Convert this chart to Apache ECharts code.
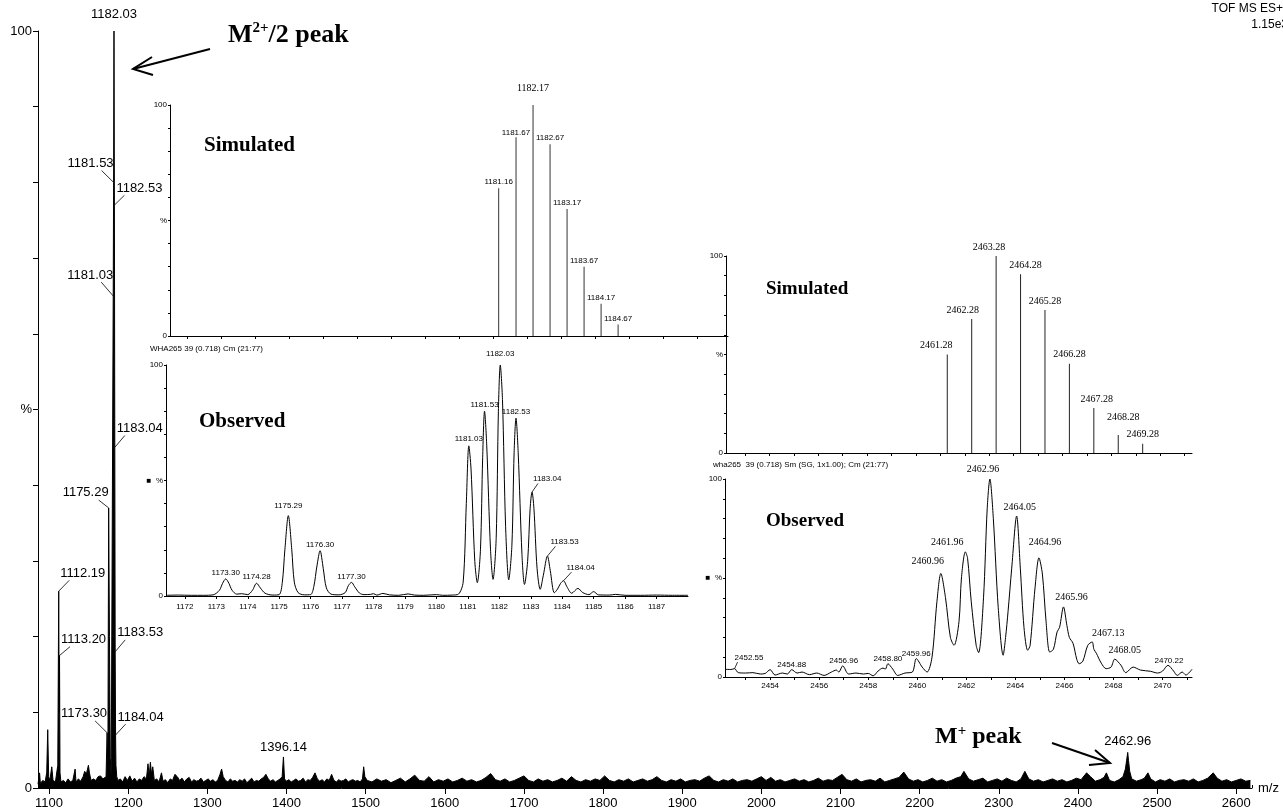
<!DOCTYPE html>
<html><head><meta charset="utf-8">
<script src="https://cdn.jsdelivr.net/npm/echarts@6/dist/echarts.min.js"></script>
<style>html,body{margin:0;padding:0;background:#fff}#c{width:1283px;height:812px}</style>
</head><body><div id="c"></div>
<script>
// ---------------- DATA ----------------
// Main spectrum profile [m/z, %]
const mainSpectrum = [
[1086,0.5],[1088,2.0],[1089,0.6],[1092,1.0],[1095,0.8],[1097,2.0],[1098.3,7.7],[1099.5,1.5],[1101,1.0],[1103.4,2.8],
[1105,1.0],[1108,0.8],[1110,1.0],[1111,3.0],[1112.19,26],[1112.7,10],[1113.2,17.5],[1113.8,2.0],[1115,0.8],[1118,1.0],
[1121,0.7],[1124,1.2],[1127,0.8],[1130,1.0],[1132.9,2.5],[1134,0.8],[1137,1.2],[1140,0.9],[1143,1.5],[1145,2.2],
[1147,1.8],[1149.7,3.0],[1151,2.0],[1153,1.0],[1156,1.2],[1159,1.0],[1162,1.5],[1165,1.6],[1168,1.2],[1170,1.0],
[1172,1.5],[1173.3,7.3],[1174.28,3.0],[1175.29,37],[1176.3,20],[1177.3,4.0],[1178.5,1.5],[1180.4,1.5],[1181.03,65],[1181.53,80],
[1182.03,100],[1182.53,77],[1183.04,45],[1183.53,18],[1184.04,7],[1184.5,3.0],[1185.5,1.5],[1187,1.0],[1190,1.2],[1193,0.8],
[1196,1.5],[1199,1.0],[1202,1.6],[1205,0.9],[1208,1.3],[1211,0.8],[1214,1.2],[1217,1.0],[1220,1.5],[1223,1.2],
[1225,3.2],[1226.5,1.5],[1228,3.4],[1229.5,1.8],[1231,2.8],[1233,1.0],[1236,1.2],[1239,0.8],[1242,2.0],[1244,0.9],
[1247,1.1],[1250,0.7],[1253,1.2],[1256,1.0],[1259,1.8],[1262,1.5],[1265,1.0],[1268,1.3],[1271,0.8],[1274,1.2],
[1277,1.4],[1280,0.8],[1283,1.1],[1286,0.9],[1289,1.0],[1292,1.3],[1295,0.8],[1298,1.0],[1301,1.2],[1304,0.9],
[1307,1.1],[1310,0.8],[1313,1.0],[1316,1.8],[1318,2.5],[1320,1.5],[1323,1.0],[1326,0.8],[1329,1.2],[1332,0.9],
[1335,1.0],[1338,0.8],[1341,1.1],[1344,0.9],[1347,1.2],[1350,0.7],[1353,1.0],[1356,1.3],[1359,0.8],[1362,1.0],
[1365,0.9],[1368,1.2],[1371,1.4],[1374,1.8],[1377,1.2],[1380,0.9],[1383,1.1],[1386,0.8],[1389,1.0],[1392,1.2],
[1394.5,1.5],[1396.14,4.1],[1397.5,1.2],[1400,0.9],[1403,1.1],[1406,0.8],[1409,1.0],[1412,1.2],[1415,0.9],[1418,1.0],
[1421,1.3],[1424,0.8],[1427,1.1],[1430,1.0],[1433,1.4],[1436,2.0],[1439,1.2],[1442,0.9],[1445,1.1],[1448,0.8],
[1451,1.2],[1454,1.0],[1457,1.8],[1460,1.0],[1463,0.8],[1466,1.1],[1469,0.9],[1472,1.0],[1475,1.2],[1478,0.8],
[1481,1.0],[1484,1.1],[1487,0.9],[1490,1.0],[1493,0.8],[1496,1.2],[1497.5,2.8],[1499,1.5],[1502,1.0],[1508,0.8],
[1514,1.2],[1520,0.9],[1526,1.1],[1532,0.7],[1538,1.0],[1544,1.3],[1550,0.8],[1556,1.2],[1562,1.7],[1568,1.0],
[1574,0.9],[1580,1.5],[1586,0.8],[1592,1.1],[1598,0.9],[1604,1.2],[1610,0.8],[1616,1.0],[1622,1.3],[1628,0.9],
[1634,1.1],[1640,0.8],[1646,1.0],[1652,1.4],[1658,1.9],[1664,1.1],[1670,0.9],[1676,1.2],[1682,0.8],[1688,1.0],
[1694,1.3],[1700,1.6],[1706,1.0],[1712,0.8],[1718,1.2],[1724,0.9],[1730,1.1],[1736,0.8],[1742,1.0],[1748,1.3],
[1754,0.9],[1760,1.5],[1766,1.0],[1772,0.8],[1778,1.1],[1784,0.9],[1790,1.2],[1796,1.0],[1802,1.6],[1808,1.0],
[1814,0.8],[1820,1.1],[1826,0.9],[1832,1.2],[1838,0.8],[1844,1.0],[1850,1.2],[1856,0.9],[1862,1.1],[1868,1.5],
[1874,1.0],[1880,0.8],[1886,1.1],[1892,0.9],[1898,1.2],[1904,0.8],[1910,1.0],[1916,1.1],[1922,0.9],[1928,1.3],
[1934,1.6],[1940,1.0],[1946,0.8],[1952,1.1],[1958,0.9],[1964,1.2],[1970,0.8],[1976,1.0],[1982,1.1],[1988,0.9],
[1994,1.2],[2000,1.5],[2006,1.0],[2012,1.4],[2018,0.9],[2024,1.1],[2030,0.8],[2036,1.0],[2042,1.2],[2048,0.9],
[2054,1.1],[2060,0.8],[2066,1.0],[2072,1.3],[2078,0.9],[2084,1.1],[2090,1.0],[2096,1.4],[2102,1.8],[2108,1.1],
[2114,0.9],[2120,1.2],[2126,0.8],[2132,1.0],[2138,1.1],[2144,0.9],[2150,1.3],[2156,0.8],[2162,1.0],[2168,1.2],
[2174,1.4],[2180,2.1],[2186,1.2],[2192,0.9],[2198,1.1],[2204,0.8],[2210,1.0],[2216,1.3],[2222,0.9],[2228,1.1],
[2234,0.8],[2240,1.0],[2246,1.3],[2252,1.5],[2256,2.2],[2262,1.2],[2268,0.9],[2274,1.1],[2280,1.3],[2286,0.8],
[2292,1.0],[2298,1.2],[2304,0.9],[2310,1.3],[2316,1.0],[2322,0.8],[2328,1.2],[2333,2.2],[2338,1.2],[2344,0.9],
[2350,1.1],[2356,0.8],[2362,1.0],[2368,1.2],[2374,0.9],[2380,1.1],[2386,0.8],[2392,1.0],[2398,1.3],[2404,1.1],
[2411,2.0],[2416,1.5],[2422,0.9],[2428,1.1],[2433,1.4],[2436,2.0],[2440,1.0],[2446,0.8],[2452,1.1],[2457,1.5],
[2460,2.5],[2461.5,3.6],[2462.96,4.7],[2464,3.6],[2465.5,2.2],[2468,1.2],[2474,0.9],[2480,1.1],[2484,1.3],[2488.5,2.0],
[2492,1.2],[2498,0.8],[2504,1.1],[2510,0.9],[2516,1.2],[2522,0.8],[2528,1.0],[2534,1.1],[2540,0.9],[2546,1.2],
[2552,0.8],[2558,1.0],[2564,1.3],[2571,2.0],[2576,1.3],[2582,0.9],[2588,1.1],[2594,0.8],[2600,1.0],[2606,1.2],
[2612,0.9],[2618,1.0]
];
const mainPeakMz  = [1182.03,1181.53,1182.53,1181.03,1183.04,1175.29,1112.19,1113.20,1183.53,1173.30,1184.04,1396.14,2462.96];
const mainPeakPct = [100,80,77,65,45,37,26,17.5,18,7.3,7,4.1,4.7];
const mainTickLabels = [1100,1200,1300,1400,1500,1600,1700,1800,1900,2000,2100,2200,2300,2400,2500,2600];

// Inset A (M2+/2)
const simAMz  = [1181.16,1181.67,1182.17,1182.67,1183.17,1183.67,1184.17,1184.67];
const simAPct = [64,86,100,83,55,30,14,5];
const obsAProfile = [
[1171.4,0.3],[1171.8,0.4],[1172.2,0.3],[1172.6,0.3],[1172.9,0.5],[1173.1,2.5],[1173.2,5.5],[1173.3,7.4],[1173.4,5.5],[1173.5,2.5],
[1173.65,0.8],[1173.8,1.0],[1174.0,0.6],[1174.15,2.5],[1174.28,5.5],[1174.4,3.5],[1174.55,1.2],[1174.8,0.4],[1175.0,0.6],[1175.1,6],
[1175.18,20],[1175.29,34.8],[1175.4,20],[1175.48,6],[1175.6,1.5],[1175.8,0.5],[1176.0,0.6],[1176.1,4],[1176.2,13],[1176.3,19.6],
[1176.4,12],[1176.5,3.5],[1176.65,0.8],[1176.9,0.5],[1177.1,1.5],[1177.2,4.5],[1177.3,5.9],[1177.4,4],[1177.55,1.3],[1177.7,0.6],
[1177.9,0.7],[1178.0,1.0],[1178.1,0.4],[1178.3,1.1],[1178.5,0.5],[1178.8,0.3],[1179.1,0.9],[1179.3,0.4],[1179.6,0.3],[1180.0,0.6],
[1180.2,0.3],[1180.5,0.4],[1180.7,0.8],[1180.85,6],[1180.95,40],[1181.03,65],[1181.1,55],[1181.22,15],[1181.3,5.8],[1181.4,20],
[1181.47,60],[1181.53,80],[1181.6,65],[1181.72,20],[1181.8,7.2],[1181.9,25],[1181.97,80],[1182.03,100],[1182.1,85],[1182.2,30],
[1182.3,7],[1182.4,22],[1182.47,62],[1182.53,77],[1182.6,62],[1182.72,18],[1182.8,5],[1182.9,15],[1182.98,38],[1183.04,45],
[1183.1,38],[1183.2,12],[1183.3,2.9],[1183.4,9],[1183.53,17.3],[1183.62,11],[1183.75,1.4],[1183.85,3],[1183.95,5.5],[1184.04,6.6],
[1184.15,4],[1184.3,1.2],[1184.5,3.3],[1184.65,1.5],[1184.85,0.6],[1185.0,1.9],[1185.15,0.5],[1185.5,0.4],[1185.7,0.7],[1186.0,0.3],
[1186.5,0.3],[1187.0,0.4],[1187.5,0.3],[1188.0,0.3]
];
const obsAPeakMz  = [1173.30,1174.28,1175.29,1176.30,1177.30,1181.03,1181.53,1182.03,1182.53,1183.04,1183.53,1184.04];
const obsAPeakPct = [7.4,5.5,34.8,19.6,5.9,65,80,100,77,45,17.3,6.6];
const insetATicks = [1172,1173,1174,1175,1176,1177,1178,1179,1180,1181,1182,1183,1184,1185,1186,1187];

// Inset B (M+)
const simBMz  = [2461.28,2462.28,2463.28,2464.28,2465.28,2466.28,2467.28,2468.28,2469.28];
const simBPct = [50,68,100,90.7,72.6,45.3,22.8,9.1,4.7];
const obsBProfile = [
[2452.16,3.9],[2452.4,3.8],[2452.55,4.2],[2452.7,2.2],[2453.0,2.0],[2453.3,2.2],[2453.6,1.5],[2453.8,1.8],[2454.0,3.7],[2454.2,1.0],
[2454.5,2.0],[2454.7,1.5],[2454.88,3.7],[2455.1,2.0],[2455.3,2.5],[2455.6,1.2],[2455.9,2.0],[2456.2,0.8],[2456.5,2.5],[2456.7,3.5],
[2456.8,2.5],[2456.96,5.6],[2457.2,1.5],[2457.5,2.0],[2457.8,1.5],[2458.0,1.8],[2458.2,0.6],[2458.4,3.0],[2458.6,4.5],[2458.7,4.0],
[2458.8,6.7],[2459.0,4.0],[2459.2,0.8],[2459.5,2.0],[2459.8,2.5],[2459.96,9.3],[2460.2,5],[2460.4,2.5],[2460.6,10],[2460.8,38],
[2460.96,52.3],[2461.15,40],[2461.35,20],[2461.5,16],[2461.7,28],[2461.8,50],[2461.96,63.2],[2462.05,60],[2462.2,38],[2462.4,16],
[2462.5,12.3],[2462.7,40],[2462.85,85],[2462.96,100],[2463.1,80],[2463.3,35],[2463.5,11],[2463.6,20],[2463.7,33],[2463.85,55],
[2464.05,81.3],[2464.2,55],[2464.35,25],[2464.5,13.5],[2464.6,16],[2464.8,45],[2464.96,60.2],[2465.1,52],[2465.25,28],[2465.4,12.6],
[2465.55,14],[2465.7,22.8],[2465.8,25],[2465.96,35.4],[2466.1,26],[2466.2,20],[2466.35,17],[2466.5,9],[2466.6,6.7],[2466.75,8],
[2466.95,16],[2467.13,17.7],[2467.2,14],[2467.3,12],[2467.5,7],[2467.7,4.2],[2467.9,5],[2468.05,9],[2468.3,6],[2468.5,2.2],
[2468.8,5],[2469.1,3.5],[2469.5,2.9],[2469.8,2.0],[2470.0,3.0],[2470.22,5.9],[2470.45,3.0],[2470.6,0.8],[2470.8,2.5],[2470.95,1.0],
[2471.2,3.9]
];
const obsBPeakMz  = [2452.55,2454.88,2456.96,2458.80,2459.96,2460.96,2461.96,2462.96,2464.05,2464.96,2465.96,2467.13,2468.05,2470.22];
const obsBPeakPct = [4.2,3.7,5.6,6.7,9.3,52.3,63.2,100,81.3,60.2,35.4,17.7,9,5.9];
const insetBTicks  = [2453,2454,2455,2456,2457,2458,2459,2460,2461,2462,2463,2464,2465,2466,2467,2468,2469,2470,2471];
const insetBLabels = [2454,2456,2458,2460,2462,2464,2466,2468,2470];

// ---------------- LAYOUT / STYLE ----------------
const SANS = "'Liberation Sans',Arial,sans-serif";
const SERIF = "'Liberation Serif','Times New Roman',serif";

// label placement relative to its peak: [dx, dy, textAlign, leader inward (0 = no leader)]
const mainLabelLayout = [
  [0,-17,'center',0],[0,-19,'right',12],[2,-17,'left',8],[0,-21,'right',12],[2,-19,'left',8],
  [0,-15,'right',10],[1.5,-18,'left',9],[1.5,-16,'left',9],[2,-19,'left',8],[0,-19,'right',12],
  [2,-18,'left',8],[0,-10,'center',0],[0,-11,'center',0]];
const simALayout = [[0,-6,'center',0],[0,-5,'center',0],[0,-17,'center',0],[0,-6,'center',0],
  [0,-6,'center',0],[0,-6,'center',0],[0,-6,'center',0],[0,-6,'center',0]];
const simASerif  = [false,false,true,false,false,false,false,false];
const obsALayout = [[0,-6,'center',0],[0,-6,'center',0],[0,-10,'center',0],[0,-6,'center',0],[0,-6,'center',0],
  [0,-7,'center',0],[0,-6,'center',0],[0,-11,'center',0],[0,-6,'center',0],
  [1,-13,'left',5],[3,-14,'left',5],[3,-13,'left',5]];
const simBLayout = [[-11,-9,'center',0],[-9,-9,'center',0],[-7,-9,'center',0],[5,-9,'center',0],[0,-9,'center',0],
  [0,-9,'center',0],[3,-9,'center',0],[5,-18,'center',0],[0,-9,'center',0]];
const obsBLayout = [[0,-11,'left',3],[0,-5,'center',0],[1,-5,'center',0],[0,-5,'center',0],[0,-5,'center',0],
  [-13,-12,'center',0],[-18,-9,'center',0],[-7,-10,'center',0],[3,-9,'center',0],[6,-15,'center',0],
  [8,-10,'center',0],[16,-9,'center',0],[10,-9,'center',0],[1,-5,'center',0]];
const obsBSerif  = [false,false,false,false,false,true,true,true,true,true,true,true,true,false];

const minorTicks = [];
for (let v = 1090; v <= 2620; v += 10) minorTicks.push(v);

function labelSeries(xi, yi, mz, pct, layout, serif, size, serifSize) {
  return {
    type: 'custom', coordinateSystem: 'cartesian2d', xAxisIndex: xi, yAxisIndex: yi,
    silent: true, z: 5, clip: false,
    data: mz.map((m, i) => [m, pct[i]]),
    renderItem: (params, api) => {
      const i = params.dataIndex;
      const pt = api.coord([api.value(0), api.value(1)]);
      const L = layout[i];
      const x = pt[0] + L[0], y = pt[1] + L[1];
      const isSerif = serif && serif[i];
      const font = isSerif ? (serifSize + 'px ' + SERIF) : (size + 'px ' + SANS);
      const children = [{
        type: 'text', x: x, y: y,
        style: { text: api.value(0).toFixed(2), font: font, textAlign: L[2], textVerticalAlign: 'middle', fill: '#000' }
      }];
      if (L[3]) {
        const ex = L[2] === 'right' ? x - L[3] : x + L[3];
        const ey = y + size * 0.55;
        children.push({ type: 'polyline', shape: { points: [[pt[0], pt[1]], [ex, ey]] },
                        style: { stroke: '#000', lineWidth: 0.8, fill: null } });
      }
      return { type: 'group', children: children };
    }
  };
}

function yAxisFor(gi, midText, size, margin, tickLen) {
  return {
    type: 'value', gridIndex: gi, min: 0, max: 100, interval: 10,
    axisLine: { show: true, lineStyle: { color: '#000', width: 1 } },
    axisTick: { show: true, length: tickLen, lineStyle: { color: '#000' } },
    splitLine: { show: false },
    axisLabel: { color: '#000', fontFamily: SANS, fontSize: size, margin: margin,
      formatter: v => v === 100 ? '100' : v === 0 ? '0' : v === 50 ? midText : '' }
  };
}

function insetX(gi, min, max, ticks, labels, margin) {
  return {
    type: 'value', gridIndex: gi, min: min, max: max,
    axisLine: { show: true, onZero: false, lineStyle: { color: '#000', width: 1 } },
    axisTick: { show: true, length: 3, customValues: ticks, lineStyle: { color: '#000' } },
    splitLine: { show: false },
    axisLabel: labels ? { show: true, customValues: labels, color: '#000', fontFamily: SANS, fontSize: 8, margin: margin,
                          formatter: v => String(v) }
                      : { show: false }
  };
}

const chart = echarts.init(document.getElementById('c'), null, { renderer: 'canvas' });
chart.setOption({
  animation: false,
  backgroundColor: '#fff',
  grid: [
    { left: 38, top: 31, width: 1214, height: 757 },
    { left: 170, top: 105, width: 558, height: 231 },
    { left: 166, top: 365, width: 522, height: 231 },
    { left: 726, top: 256, width: 466, height: 197 },
    { left: 725, top: 479, width: 467, height: 198 }
  ],
  xAxis: [
    { type: 'value', gridIndex: 0, min: 1086, max: 2620,
      axisLine: { show: true, onZero: false, lineStyle: { color: '#000', width: 1 } },
      axisTick: { show: true, length: 6, customValues: mainTickLabels, lineStyle: { color: '#000' } },
      splitLine: { show: false },
      axisLabel: { customValues: mainTickLabels, color: '#000', fontFamily: SANS, fontSize: 13, margin: 9,
                   formatter: v => String(v) },
      name: 'm/z', nameLocation: 'end', nameGap: 6,
      nameTextStyle: { color: '#000', fontFamily: SANS, fontSize: 13 } },
    { type: 'value', gridIndex: 0, min: 1086, max: 2620,
      axisLine: { show: false }, splitLine: { show: false },
      axisTick: { show: true, length: 3, customValues: minorTicks, lineStyle: { color: '#000' } },
      axisLabel: { show: false } },
    insetX(1, 1171.5, 1187.9, insetATicks, null, 0),
    insetX(2, 1171.4, 1188.0, insetATicks, insetATicks, 7),
    insetX(3, 2452.22, 2471.3, insetBTicks, null, 0),
    insetX(4, 2452.16, 2471.2, insetBTicks, insetBLabels, 5)
  ],
  yAxis: [
    yAxisFor(0, '%', 13, 6, 5),
    yAxisFor(1, '%', 8, 3, 2),
    yAxisFor(2, '\u25A0  %', 8, 3, 2),
    yAxisFor(3, '%', 8, 3, 2),
    yAxisFor(4, '\u25A0  %', 8, 3, 2)
  ],
  series: [
    { type: 'line', xAxisIndex: 0, yAxisIndex: 0, data: mainSpectrum, showSymbol: false, silent: true,
      sampling: null, lineStyle: { color: '#000', width: 1 }, areaStyle: { color: '#000', opacity: 1 } },
    labelSeries(0, 0, mainPeakMz, mainPeakPct, mainLabelLayout, null, 13, 13),

    { type: 'bar', xAxisIndex: 2, yAxisIndex: 1, barWidth: 1, silent: true,
      data: simAMz.map((m, i) => [m, simAPct[i]]), itemStyle: { color: '#333' } },
    labelSeries(2, 1, simAMz, simAPct, simALayout, simASerif, 8, 10),

    { type: 'line', xAxisIndex: 3, yAxisIndex: 2, data: obsAProfile, showSymbol: false, silent: true, smooth: 0.3,
      lineStyle: { color: '#000', width: 1 } },
    labelSeries(3, 2, obsAPeakMz, obsAPeakPct, obsALayout, null, 8, 8),

    { type: 'bar', xAxisIndex: 4, yAxisIndex: 3, barWidth: 1, silent: true,
      data: simBMz.map((m, i) => [m, simBPct[i]]), itemStyle: { color: '#222' } },
    labelSeries(4, 3, simBMz, simBPct, simBLayout, simBMz.map(() => true), 8, 10),

    { type: 'line', xAxisIndex: 5, yAxisIndex: 4, data: obsBProfile, showSymbol: false, silent: true, smooth: 0.3,
      lineStyle: { color: '#000', width: 1 } },
    labelSeries(5, 4, obsBPeakMz, obsBPeakPct, obsBLayout, obsBSerif, 8, 10)
  ],
  graphic: [
    { type: 'text', x: 1283, y: 9, style: { text: 'TOF MS ES+', font: '12px ' + SANS, textAlign: 'right', textVerticalAlign: 'middle', fill: '#000' } },
    { type: 'text', x: 1288, y: 25, style: { text: '1.15e3', font: '12px ' + SANS, textAlign: 'right', textVerticalAlign: 'middle', fill: '#000' } },
    { type: 'text', x: 228, y: 35, style: {
        text: '{a|M}{s|2+}{a|/2 peak}', textVerticalAlign: 'middle', fill: '#000',
        rich: { a: { font: 'bold 26px ' + SERIF, lineHeight: 28 }, s: { font: 'bold 15px ' + SERIF, lineHeight: 28, verticalAlign: 'top' } } } },
    { type: 'polyline', shape: { points: [[210, 49], [133, 69]] }, style: { stroke: '#000', lineWidth: 2, fill: null } },
    { type: 'polyline', shape: { points: [[152, 57], [133, 69], [153, 75]] }, style: { stroke: '#000', lineWidth: 2, fill: null } },
    { type: 'text', x: 935, y: 737, style: {
        text: '{a|M}{s|+}{a| peak}', textVerticalAlign: 'middle', fill: '#000',
        rich: { a: { font: 'bold 24px ' + SERIF, lineHeight: 26 }, s: { font: 'bold 15px ' + SERIF, lineHeight: 26, verticalAlign: 'top' } } } },
    { type: 'polyline', shape: { points: [[1052, 743], [1110, 763]] }, style: { stroke: '#000', lineWidth: 2, fill: null } },
    { type: 'polyline', shape: { points: [[1095, 750], [1110, 763], [1089, 765]] }, style: { stroke: '#000', lineWidth: 2, fill: null } },
    { type: 'text', x: 204, y: 146, style: { text: 'Simulated', font: 'bold 21px ' + SERIF, textVerticalAlign: 'middle', fill: '#000' } },
    { type: 'text', x: 199, y: 422, style: { text: 'Observed', font: 'bold 21px ' + SERIF, textVerticalAlign: 'middle', fill: '#000' } },
    { type: 'text', x: 766, y: 289, style: { text: 'Simulated', font: 'bold 19px ' + SERIF, textVerticalAlign: 'middle', fill: '#000' } },
    { type: 'text', x: 766, y: 521, style: { text: 'Observed', font: 'bold 19px ' + SERIF, textVerticalAlign: 'middle', fill: '#000' } },
    { type: 'text', x: 150, y: 349, style: { text: 'WHA265 39 (0.718) Cm (21:77)', font: '8px ' + SANS, textVerticalAlign: 'middle', fill: '#000' } },
    { type: 'text', x: 713, y: 465, style: { text: 'wha265  39 (0.718) Sm (SG, 1x1.00); Cm (21:77)', font: '8px ' + SANS, textVerticalAlign: 'middle', fill: '#000' } }
  ]
});
</script>
</body></html>
